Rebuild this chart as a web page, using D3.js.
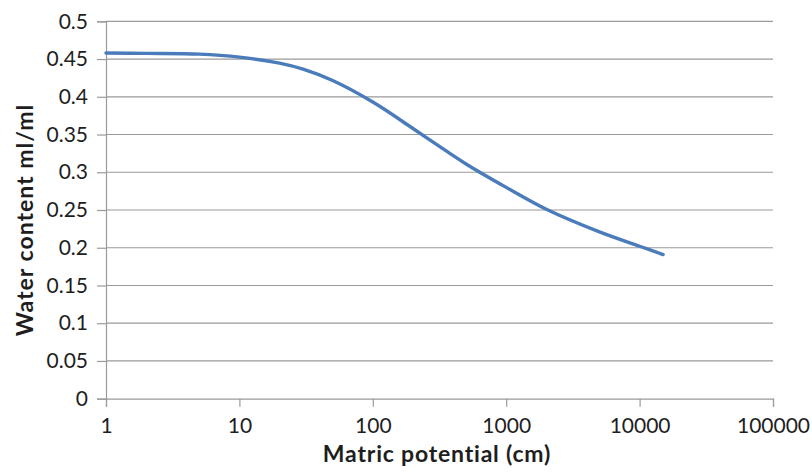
<!DOCTYPE html>
<html><head><meta charset="utf-8">
<script src="https://cdn.jsdelivr.net/npm/d3@7/dist/d3.min.js"></script>
<style>body{margin:0;background:#fff}svg{display:block}</style>
</head><body>
<script>
const potential = [1, 2, 5, 10, 20, 30, 50, 100, 200, 300, 500, 1000, 2000, 5000, 10000, 15000];
const waterContent = [0.458, 0.4575, 0.4565, 0.4525, 0.4445, 0.4365, 0.4215, 0.393, 0.358, 0.337, 0.311, 0.280, 0.251, 0.221, 0.202, 0.191];
const xTicks = [1, 10, 100, 1000, 10000, 100000];
const yTicks = [0, 0.05, 0.1, 0.15, 0.2, 0.25, 0.3, 0.35, 0.4, 0.45, 0.5];
const xTitle = "Matric potential (cm)";
const yTitle = "Water content ml/ml";

const W = 812, H = 472;
const m = {left: 106, right: 39, top: 21.3, bottom: 73.3};
const svg = d3.select("body").append("svg").attr("width", W).attr("height", H);
const x = d3.scaleLog().domain([1, 100000]).range([m.left, W - m.right]);
const y = d3.scaleLinear().domain([0, 0.5]).range([H - m.bottom, m.top]);
const font = "Lato, 'Open Sans', sans-serif";
const gridCol = "#9a9a9a";
const textCol = "#1e1e1e";

// gridlines
svg.append("g").selectAll("line").data(yTicks.filter(d => d > 0)).join("line")
  .attr("x1", m.left).attr("x2", W - m.right)
  .attr("y1", d => y(d)).attr("y2", d => y(d))
  .attr("stroke", gridCol).attr("stroke-width", 1.2);

// y axis
const ya = svg.append("g").attr("transform", `translate(${m.left},0)`)
  .call(d3.axisLeft(y).tickValues(yTicks).tickSize(9).tickPadding(9).tickFormat(d => String(+d.toFixed(2))));
ya.select(".domain").attr("stroke", gridCol).attr("stroke-width", 1.2);
ya.selectAll(".tick line").attr("stroke", gridCol).attr("stroke-width", 1.2);
ya.selectAll("text").attr("font-family", font).attr("font-size", 21).attr("fill", textCol);

// x axis
const xa = svg.append("g").attr("transform", `translate(0,${y(0)})`)
  .call(d3.axisBottom(x).tickValues(xTicks).tickSize(8).tickPadding(11).tickFormat(d3.format("d")));
xa.select(".domain").attr("stroke", gridCol).attr("stroke-width", 1.2);
xa.selectAll(".tick line").attr("stroke", gridCol).attr("stroke-width", 1.2);
xa.selectAll("text").attr("font-family", font).attr("font-size", 21).attr("fill", textCol);

// curve
const line = d3.line().x((d, i) => x(potential[i])).y(d => y(d)).curve(d3.curveCatmullRom.alpha(0.5));
svg.append("path").datum(waterContent).attr("d", line)
  .attr("fill", "none").attr("stroke", "#4a7bbb").attr("stroke-width", 3.4).attr("stroke-linecap", "round");

// titles
svg.append("text").attr("x", 437).attr("y", 462)
  .attr("text-anchor", "middle").attr("font-family", font).attr("font-weight", "bold")
  .attr("font-size", 23).attr("letter-spacing", 0.8).attr("fill", textCol).text(xTitle);
svg.append("text").attr("transform", `translate(33,220) rotate(-90)`)
  .attr("text-anchor", "middle").attr("font-family", font).attr("font-weight", "bold")
  .attr("font-size", 23).attr("letter-spacing", 1).attr("fill", textCol).text(yTitle);
</script>
</body></html>
